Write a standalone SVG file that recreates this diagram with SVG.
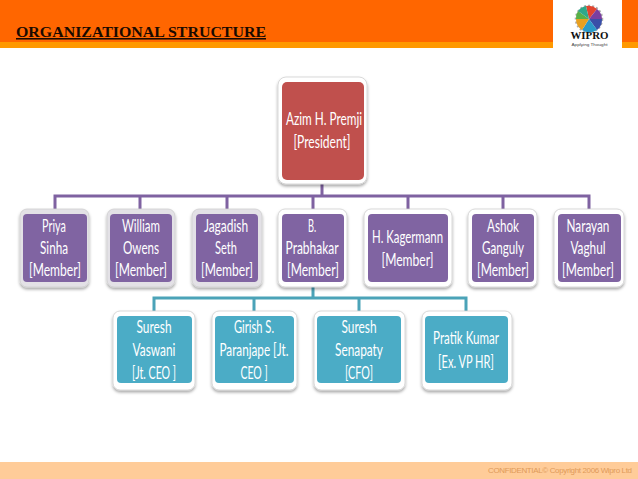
<svg xmlns="http://www.w3.org/2000/svg" width="638" height="479" viewBox="0 0 638 479">
<style>
.t{font-family:Lato,"Liberation Sans",sans-serif;font-size:18px;fill:#fff;text-anchor:middle;transform:scaleX(.68);transform-box:fill-box;transform-origin:center}
.o{stroke:#cfcfcf;stroke-width:.8;fill:#fff;filter:url(#s)}
.g{fill:#e3e1e6}
.r{fill:#c0504d}.p{fill:#8064a2}.b{fill:#4bacc6}
.cp{stroke:#7f62a1;stroke-width:3;fill:none}
.cb{stroke:#4ba3b8;stroke-width:3;fill:none}
</style>
<defs><filter id="s" x="-20%" y="-20%" width="140%" height="140%"><feDropShadow dx="0" dy="2" stdDeviation="1.5" flood-color="#000" flood-opacity=".35"/></filter></defs>
<rect width="638" height="479" fill="#fff"/>
<rect width="638" height="42" fill="#ff6600"/>
<rect y="42" width="638" height="6" fill="#ff9900"/>
<rect x="553" width="69" height="48" fill="#fff"/>
<text x="16" y="37" font-family="Liberation Serif,serif" font-size="15.500" font-weight="bold" fill="#1a0a00" textLength="250" lengthAdjust="spacingAndGlyphs" text-decoration="underline">ORGANIZATIONAL STRUCTURE</text>
<g id="logo">
<circle cx="589" cy="19" r="13" fill="none" stroke="#888" stroke-width="2.500" stroke-dasharray="2 2" opacity=".7"/>
<path d="M589 19L586 6A13 13 0 0 1 597 9Z" fill="#e2452f"/>
<path d="M589 19L597 9A13 13 0 0 1 602 19Z" fill="#7a3fa0"/>
<path d="M589 19L602 19A13 13 0 0 1 597 30Z" fill="#3a4fa8"/>
<path d="M589 19L597 30A13 13 0 0 1 582 30Z" fill="#2a9ac8"/>
<path d="M589 19L582 30A13 13 0 0 1 576 19Z" fill="#e8a020"/>
<path d="M589 19L576 19A13 13 0 0 1 578 11Z" fill="#58b048"/>
<path d="M589 19L578 11A13 13 0 0 1 586 6Z" fill="#2fa88a"/>
<text x="589.500" y="39" font-family="Liberation Serif,serif" font-size="10" font-weight="bold" fill="#111" text-anchor="middle" textLength="38" lengthAdjust="spacingAndGlyphs">WIPRO</text>
<text x="589.500" y="46" font-family="Liberation Sans,sans-serif" font-size="4" fill="#444" text-anchor="middle" textLength="36" lengthAdjust="spacingAndGlyphs">Applying Thought</text>
</g>
<g id="connectors">
<path class="cp" d="M322 184V196M55 209V196H589V209M140 196V209M227 196V209M313 196V209M408 196V209M503 196V209"/>
<path class="cb" d="M313 282V298M154 311V298H466V311M254 298V311M359 298V311"/>
</g>
<g id="n-premji"><rect class="o" x="278" y="77" width="89" height="107" rx="8"/><rect class="r" x="282" y="82" width="82" height="98" rx="5"/>
<text class="t" x="324" y="125" textLength="112" lengthAdjust="spacingAndGlyphs">Azim H. Premji</text><text class="t" x="322" y="148" textLength="84" lengthAdjust="spacingAndGlyphs">[President]</text></g>
<g id="n-priya"><rect class="o g" x="20" y="209" width="69" height="78" rx="7"/><rect class="p" x="23" y="214" width="64" height="68" rx="4"/>
<text class="t" x="54" y="232" textLength="35" lengthAdjust="spacingAndGlyphs">Priya</text><text class="t" x="54" y="254" textLength="41" lengthAdjust="spacingAndGlyphs">Sinha</text><text class="t" x="55" y="276" textLength="76.500" lengthAdjust="spacingAndGlyphs">[Member]</text></g>
<g id="n-william"><rect class="o g" x="107" y="209" width="68" height="78" rx="7"/><rect class="p" x="110" y="214" width="62" height="68" rx="4"/>
<text class="t" x="141" y="232" textLength="56" lengthAdjust="spacingAndGlyphs">William</text><text class="t" x="141" y="254" textLength="53" lengthAdjust="spacingAndGlyphs">Owens</text><text class="t" x="141" y="276" textLength="76.500" lengthAdjust="spacingAndGlyphs">[Member]</text></g>
<g id="n-jagadish"><rect class="o g" x="192" y="209" width="70" height="78" rx="7"/><rect class="p" x="196" y="214" width="62" height="68" rx="4"/>
<text class="t" x="226" y="232" textLength="65" lengthAdjust="spacingAndGlyphs">Jagadish</text><text class="t" x="226" y="254" textLength="32" lengthAdjust="spacingAndGlyphs">Seth</text><text class="t" x="227" y="276" textLength="76.500" lengthAdjust="spacingAndGlyphs">[Member]</text></g>
<g id="n-prabhakar"><rect class="o" x="278" y="209" width="69" height="78" rx="7"/><rect class="p" x="282" y="214" width="62" height="68" rx="4"/>
<text class="t" x="312" y="232" textLength="12" lengthAdjust="spacingAndGlyphs">B.</text><text class="t" x="312" y="254" textLength="78" lengthAdjust="spacingAndGlyphs">Prabhakar</text><text class="t" x="313" y="276" textLength="76.500" lengthAdjust="spacingAndGlyphs">[Member]</text></g>
<g id="n-kagermann"><rect class="o" x="364" y="209" width="88" height="78" rx="7"/><rect class="p" x="368" y="214" width="80" height="68" rx="4"/>
<text class="t" x="407.500" y="243" textLength="104.500" lengthAdjust="spacingAndGlyphs">H. Kagermann</text><text class="t" x="407.500" y="266" textLength="76.500" lengthAdjust="spacingAndGlyphs">[Member]</text></g>
<g id="n-ashok"><rect class="o" x="468" y="209" width="69" height="78" rx="7"/><rect class="p" x="472" y="214" width="62" height="68" rx="4"/>
<text class="t" x="503" y="232" textLength="47" lengthAdjust="spacingAndGlyphs">Ashok</text><text class="t" x="503" y="254" textLength="62" lengthAdjust="spacingAndGlyphs">Ganguly</text><text class="t" x="503" y="276" textLength="76.500" lengthAdjust="spacingAndGlyphs">[Member]</text></g>
<g id="n-narayan"><rect class="o" x="554" y="209" width="70" height="78" rx="7"/><rect class="p" x="558" y="214" width="63" height="68" rx="4"/>
<text class="t" x="588" y="232" textLength="63" lengthAdjust="spacingAndGlyphs">Narayan</text><text class="t" x="588" y="254" textLength="51.500" lengthAdjust="spacingAndGlyphs">Vaghul</text><text class="t" x="588" y="276" textLength="76.500" lengthAdjust="spacingAndGlyphs">[Member]</text></g>
<g id="n-vaswani"><rect class="o" x="113" y="311" width="82" height="79" rx="7"/><rect class="b" x="117" y="316" width="75" height="67" rx="4"/>
<text class="t" x="154" y="333" textLength="51.500" lengthAdjust="spacingAndGlyphs">Suresh</text><text class="t" x="154" y="356" textLength="63" lengthAdjust="spacingAndGlyphs">Vaswani</text><text class="t" x="154" y="379" textLength="65" lengthAdjust="spacingAndGlyphs">[Jt. CEO ]</text></g>
<g id="n-paranjape"><rect class="o" x="212" y="311" width="85" height="79" rx="7"/><rect class="b" x="215" y="316" width="79" height="67" rx="4"/>
<text class="t" x="254" y="333" textLength="59" lengthAdjust="spacingAndGlyphs">Girish S.</text><text class="t" x="254" y="356" textLength="101.500" lengthAdjust="spacingAndGlyphs">Paranjape [Jt.</text><text class="t" x="254" y="379" textLength="40" lengthAdjust="spacingAndGlyphs">CEO ]</text></g>
<g id="n-senapaty"><rect class="o" x="314" y="311" width="91" height="79" rx="7"/><rect class="b" x="317" y="316" width="84" height="67" rx="4"/>
<text class="t" x="359" y="333" textLength="51.500" lengthAdjust="spacingAndGlyphs">Suresh</text><text class="t" x="359" y="356" textLength="70.500" lengthAdjust="spacingAndGlyphs">Senapaty</text><text class="t" x="359" y="379" textLength="41" lengthAdjust="spacingAndGlyphs">[CFO]</text></g>
<g id="n-pratik"><rect class="o" x="422" y="311" width="90" height="79" rx="7"/><rect class="b" x="425" y="316" width="83" height="67" rx="4"/>
<text class="t" x="466" y="344" textLength="97" lengthAdjust="spacingAndGlyphs">Pratik Kumar</text><text class="t" x="466" y="368" textLength="82" lengthAdjust="spacingAndGlyphs">[Ex. VP HR]</text></g>
<rect y="462" width="638" height="17" fill="#ffcc99"/>
<text x="488" y="473" font-family="Liberation Sans,sans-serif" font-size="8" fill="#e09a58" textLength="144" lengthAdjust="spacing">CONFIDENTIAL© Copyright 2006 Wipro Ltd</text>
</svg>
